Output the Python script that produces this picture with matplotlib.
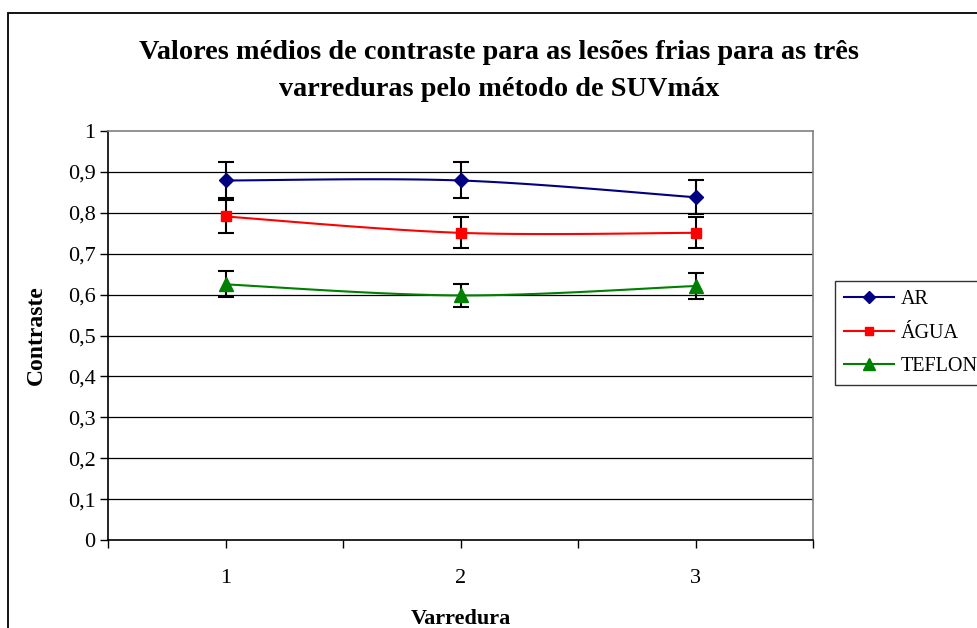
import numpy as np
import matplotlib
matplotlib.use("Agg")
import matplotlib.pyplot as plt
from matplotlib.patches import Rectangle

plt.rcParams['font.family'] = ['Liberation Serif', 'DejaVu Serif']

varredura = [1, 2, 3]
tick_labels = ["1", "2", "3"]
ar = [0.879, 0.879, 0.838]
ar_err = [0.044, 0.044, 0.041]
agua = [0.791, 0.751, 0.751]
agua_err = [0.041, 0.038, 0.038]
teflon = [0.625, 0.598, 0.621]
teflon_err = [0.032, 0.028, 0.032]

series = [
    ("AR", ar, ar_err, "#000080", "D", 7),
    ("ÁGUA", agua, agua_err, "#FF0000", "s", 7),
    ("TEFLON", teflon, teflon_err, "#008000", "^", 9.5),
]


def smooth(xs, ys, n=60):
    xs = np.asarray(xs, float)
    ys = np.asarray(ys, float)
    px = np.concatenate([[xs[0]], xs, [xs[-1]]])
    py = np.concatenate([[ys[0]], ys, [ys[-1]]])
    outx, outy = [], []
    t = np.linspace(0, 1, n)
    for i in range(1, len(px) - 2):
        p0x, p1x, p2x, p3x = px[i - 1], px[i], px[i + 1], px[i + 2]
        p0y, p1y, p2y, p3y = py[i - 1], py[i], py[i + 1], py[i + 2]
        c1x = p1x + (p2x - p0x) / 6
        c1y = p1y + (p2y - p0y) / 6
        c2x = p2x - (p3x - p1x) / 6
        c2y = p2y - (p3y - p1y) / 6
        bx = (1 - t) ** 3 * p1x + 3 * (1 - t) ** 2 * t * c1x + 3 * (1 - t) * t ** 2 * c2x + t ** 3 * p2x
        by = (1 - t) ** 3 * p1y + 3 * (1 - t) ** 2 * t * c1y + 3 * (1 - t) * t ** 2 * c2y + t ** 3 * p2y
        outx.extend(bx)
        outy.extend(by)
    return outx, outy


W, H = 977, 628
fig = plt.figure(figsize=(W / 100, H / 100), dpi=100)
fig.patch.set_facecolor("white")

# outer chart border (cropped at right and bottom)
fig.patches.append(Rectangle((8 / W, -0.05), 1.2, (H - 13) / H + 0.05,
                             transform=fig.transFigure, fill=False,
                             edgecolor="black", linewidth=1.3))

ax = fig.add_axes([108 / W, (H - 540) / H, (813 - 108) / W, (540 - 131) / H])
ax.set_xlim(0.5, 3.5)
ax.set_ylim(0, 1)

yt = np.arange(0, 1.01, 0.1)
ax.set_yticks(yt)
ax.set_yticklabels(["0" if v == 0 else ("1" if abs(v - 1) < 1e-9 else f"{v:.1f}".replace(".", ","))
                    for v in yt], fontsize=16)
for v in np.arange(0.1, 0.95, 0.1):
    ax.axhline(v, color="black", linewidth=0.9, zorder=1)

ax.set_xticks(varredura)
ax.set_xticklabels(tick_labels, fontsize=16)
ax.set_xticks([0.5, 1.5, 2.5, 3.5], minor=True)
ax.tick_params(axis="x", which="both", direction="out", length=6, width=1, pad=15)
ax.tick_params(axis="y", direction="out", length=6, width=1, pad=3)

for s in ["left", "bottom"]:
    ax.spines[s].set_color("black")
    ax.spines[s].set_linewidth(1.2)
for s in ["top", "right"]:
    ax.spines[s].set_color("#808080")
    ax.spines[s].set_linewidth(1.2)

handles = []
for name, vals, errs, col, mk, ms in series:
    sx, sy = smooth(varredura, vals)
    ax.plot(sx, sy, color=col, linewidth=1.5, zorder=3)
    ax.errorbar(varredura, vals, yerr=errs, fmt="none", ecolor="black",
                elinewidth=1.5, capsize=5.5, capthick=1.5, zorder=4)
    ax.plot(varredura, vals, linestyle="none", marker=mk, markersize=ms,
            color=col, markeredgecolor=col, zorder=5)
    h, = ax.plot([], [], color=col, linewidth=1.5, marker=mk, markersize=ms * 0.85,
                 markeredgecolor=col, label=name)
    handles.append(h)

ax.set_ylabel("Contraste", fontsize=17, fontweight="bold", labelpad=15)
ax.set_xlabel("Varredura", fontsize=16, fontweight="bold", labelpad=15)

fig.text(499 / W, (H - 71) / H,
         "Valores médios de contraste para as lesões frias para as três\nvarreduras pelo método de SUVmáx",
         ha="center", va="center", fontsize=20.3, fontweight="bold", linespacing=1.6)

leg = fig.legend(handles=handles, loc="upper left",
                 bbox_to_anchor=(835 / W, (H - 281) / H),
                 frameon=True, fancybox=False, edgecolor="black",
                 fontsize=14.5, handlelength=2.5, handletextpad=0.3,
                 labelspacing=0.72, borderpad=0.45, borderaxespad=0)
leg.get_frame().set_linewidth(1.0)

fig.savefig("out.png", dpi=100, facecolor="white")
